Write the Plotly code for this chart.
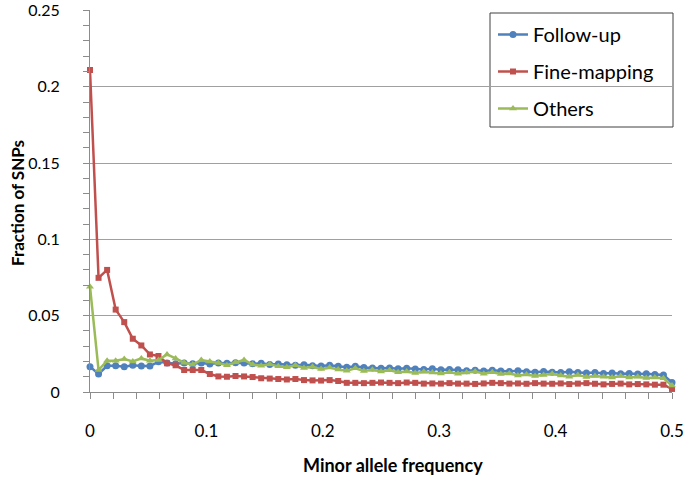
import plotly.graph_objects as go

n_chrom = 136
k_vals = list(range(69))
maf = [k / n_chrom for k in k_vals]

follow_up = [
    0.0166, 0.0118, 0.0172, 0.0172, 0.0166, 0.0175, 0.0170, 0.0170, 0.0198, 0.0190,
    0.0185, 0.0190, 0.0185, 0.0190, 0.0183, 0.0190, 0.0188, 0.0192, 0.0190, 0.0185,
    0.0188, 0.0180, 0.0183, 0.0178, 0.0175, 0.0178, 0.0172, 0.0170, 0.0175, 0.0168,
    0.0162, 0.0168, 0.0160, 0.0158, 0.0155, 0.0158, 0.0152, 0.0155, 0.0150, 0.0148,
    0.0152, 0.0145, 0.0148, 0.0145, 0.0140, 0.0143, 0.0138, 0.0142, 0.0138, 0.0135,
    0.0140, 0.0133, 0.0130, 0.0135, 0.0130, 0.0128, 0.0132, 0.0128, 0.0125, 0.0128,
    0.0122, 0.0125, 0.0120, 0.0122, 0.0118, 0.0120, 0.0115, 0.0112, 0.0062,
]

fine_mapping = [
    0.2110, 0.0748, 0.0800, 0.0540, 0.0458, 0.0349, 0.0305, 0.0246, 0.0236, 0.0188,
    0.0175, 0.0144, 0.0144, 0.0144, 0.0118, 0.0102, 0.0100, 0.0105, 0.0102, 0.0098,
    0.0090, 0.0088, 0.0085, 0.0082, 0.0085, 0.0078, 0.0076, 0.0075, 0.0078, 0.0072,
    0.0060, 0.0060, 0.0058, 0.0060, 0.0062, 0.0060, 0.0058, 0.0062, 0.0060, 0.0055,
    0.0056, 0.0055, 0.0058, 0.0055, 0.0055, 0.0053, 0.0056, 0.0060, 0.0058, 0.0055,
    0.0056, 0.0054, 0.0058, 0.0055, 0.0054, 0.0056, 0.0052, 0.0055, 0.0058, 0.0054,
    0.0050, 0.0053, 0.0055, 0.0050, 0.0052, 0.0050, 0.0048, 0.0048, 0.0020,
]

others = [
    0.0690, 0.0144, 0.0205, 0.0205, 0.0216, 0.0200, 0.0220, 0.0205, 0.0210, 0.0246,
    0.0220, 0.0192, 0.0180, 0.0210, 0.0200, 0.0190, 0.0175, 0.0195, 0.0210, 0.0180,
    0.0172, 0.0182, 0.0168, 0.0162, 0.0175, 0.0158, 0.0165, 0.0150, 0.0160, 0.0148,
    0.0140, 0.0155, 0.0138, 0.0145, 0.0135, 0.0142, 0.0130, 0.0135, 0.0125, 0.0132,
    0.0128, 0.0122, 0.0130, 0.0120, 0.0128, 0.0135, 0.0120, 0.0130, 0.0118, 0.0122,
    0.0108, 0.0115, 0.0105, 0.0112, 0.0120, 0.0108, 0.0100, 0.0112, 0.0098, 0.0105,
    0.0100, 0.0095, 0.0105, 0.0095, 0.0100, 0.0092, 0.0095, 0.0090, 0.0042,
]

x_ticks = [0, 0.1, 0.2, 0.3, 0.4, 0.5]
x_tick_labels = ["0", "0.1", "0.2", "0.3", "0.4", "0.5"]
y_ticks = [0, 0.05, 0.1, 0.15, 0.2, 0.25]
y_tick_labels = ["0", "0.05", "0.1", "0.15", "0.2", "0.25"]

FONT = "Lato, Carlito, Calibri, sans-serif"
AXIS_COL = "#8c8c8c"

fig = go.Figure()
series = [
    ("Follow-up", follow_up, "#4F81BD", "circle", 7),
    ("Fine-mapping", fine_mapping, "#C0504D", "square", 6),
    ("Others", others, "#9BBB59", "triangle-up", 7),
]
for i, (name, vals, col, sym, sz) in enumerate(series):
    fig.add_trace(go.Scatter(
        x=maf, y=vals, name=name, mode="lines+markers",
        line=dict(color=col, width=2.5),
        marker=dict(color=col, symbol=sym, size=sz),
        cliponaxis=False, legendgroup=str(i),
    ))

W, H = 689, 477
L, R, T, B = 90, 17, 10, 85
pw = W - L - R
ph = H - T - B

def px_x(p):
    return (p - L) / pw

def px_y(p):
    return 1 - (p - T) / ph

fig.update_layout(
    width=W, height=H,
    margin=dict(l=L, r=R, t=T, b=B, autoexpand=False),
    paper_bgcolor="white", plot_bgcolor="white",
    font=dict(family=FONT, size=16, color="black"),
    showlegend=True,
    legend=dict(
        x=px_x(493), y=px_y(15), xanchor="left", yanchor="top",
        bgcolor="rgba(0,0,0,0)", borderwidth=0,
        traceorder="grouped", tracegroupgap=8,
        font=dict(family=FONT, size=20), itemwidth=30,
    ),
    xaxis=dict(
        range=[0, 0.5], tickvals=x_ticks, ticktext=x_tick_labels,
        showgrid=False, zeroline=False,
        showline=True, linecolor=AXIS_COL, linewidth=1,
        ticks="outside", ticklen=6, tickcolor=AXIS_COL,
        minor=dict(ticks="outside", dtick=0.02, ticklen=6, tickcolor=AXIS_COL, showgrid=False),
        ticklabelstandoff=18, ticklabeloverflow="allow",
        tickfont=dict(size=17),
    ),
    yaxis=dict(
        range=[0, 0.2503], tickvals=y_ticks, ticktext=y_tick_labels,
        showgrid=True, gridcolor="#a0a0a0", gridwidth=1, zeroline=False,
        showline=True, linecolor=AXIS_COL, linewidth=1,
        ticks="outside", ticklen=6, tickcolor=AXIS_COL,
        minor=dict(ticks="outside", dtick=0.01, ticklen=6, tickcolor=AXIS_COL, showgrid=False),
        ticklabelstandoff=20, ticklabeloverflow="allow",
        tickfont=dict(size=16),
    ),
    shapes=[dict(
        type="rect", xref="paper", yref="paper",
        x0=px_x(490), x1=px_x(673), y0=px_y(127), y1=px_y(13),
        line=dict(color="#404040", width=1), fillcolor="white", layer="below",
    )],
    annotations=[
        dict(text="<b>Minor allele frequency</b>", xref="paper", yref="paper",
             x=px_x(393), y=px_y(465), xanchor="center", yanchor="middle",
             showarrow=False, font=dict(size=18)),
        dict(text="<b>Fraction of SNPs</b>", xref="paper", yref="paper",
             x=px_x(18), y=px_y(203), xanchor="center", yanchor="middle",
             textangle=-90, showarrow=False, font=dict(size=17)),
    ],
)

fig.write_html("out.html", config={"displayModeBar": False},
               post_script="document.body.style.margin='0';")
